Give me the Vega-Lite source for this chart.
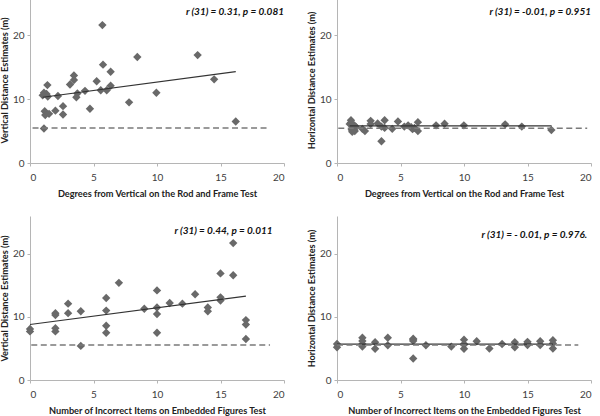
{
  "$schema": "https://vega.github.io/schema/vega-lite/v6.json",
  "padding": {"left": 0, "top": -3, "right": 0, "bottom": 0},
  "background": "white",
  "datasets": {
    "points": [
      {"p":1,"x":1.0,"y":10.6},{"p":1,"x":1.1,"y":11.0},{"p":1,"x":1.3,"y":10.8},{"p":1,"x":1.4,"y":10.4},
      {"p":1,"x":1.37,"y":12.2},{"p":1,"x":2.2,"y":10.5},{"p":1,"x":1.16,"y":8.1},{"p":1,"x":1.2,"y":7.5},
      {"p":1,"x":1.5,"y":7.7},{"p":1,"x":2.0,"y":8.2},{"p":1,"x":2.6,"y":8.9},{"p":1,"x":2.6,"y":7.6},
      {"p":1,"x":1.1,"y":5.4},{"p":1,"x":3.15,"y":12.3},{"p":1,"x":3.46,"y":13.7},{"p":1,"x":3.46,"y":13.0},
      {"p":1,"x":3.73,"y":10.9},{"p":1,"x":3.65,"y":10.3},{"p":1,"x":4.33,"y":11.3},{"p":1,"x":4.72,"y":8.5},
      {"p":1,"x":5.25,"y":12.8},{"p":1,"x":5.7,"y":21.6},{"p":1,"x":5.75,"y":15.4},{"p":1,"x":5.57,"y":11.4},
      {"p":1,"x":6.04,"y":11.4},{"p":1,"x":6.35,"y":14.3},{"p":1,"x":6.35,"y":12.1},{"p":1,"x":7.8,"y":9.5},
      {"p":1,"x":8.45,"y":16.6},{"p":1,"x":9.95,"y":11.0},{"p":1,"x":13.2,"y":16.9},{"p":1,"x":14.5,"y":13.1},
      {"p":1,"x":16.2,"y":6.5},

      {"p":2,"x":1.0,"y":6.1},{"p":2,"x":1.1,"y":6.7},{"p":2,"x":1.3,"y":5.5},{"p":2,"x":1.4,"y":5.0},
      {"p":2,"x":1.37,"y":5.9},{"p":2,"x":2.2,"y":5.0},{"p":2,"x":1.16,"y":5.2},{"p":2,"x":1.2,"y":4.9},
      {"p":2,"x":1.5,"y":5.6},{"p":2,"x":2.0,"y":5.35},{"p":2,"x":2.65,"y":6.6},{"p":2,"x":2.65,"y":6.1},
      {"p":2,"x":1.1,"y":6.3},{"p":2,"x":3.2,"y":6.2},{"p":2,"x":3.5,"y":3.4},{"p":2,"x":3.5,"y":5.7},
      {"p":2,"x":3.75,"y":6.7},{"p":2,"x":3.75,"y":5.5},{"p":2,"x":4.35,"y":5.35},{"p":2,"x":4.8,"y":6.5},
      {"p":2,"x":5.3,"y":5.7},{"p":2,"x":5.6,"y":5.9},{"p":2,"x":5.85,"y":5.6},{"p":2,"x":5.95,"y":5.3},
      {"p":2,"x":6.1,"y":5.5},{"p":2,"x":6.37,"y":6.4},{"p":2,"x":6.37,"y":5.0},{"p":2,"x":7.8,"y":5.9},
      {"p":2,"x":8.47,"y":6.15},{"p":2,"x":9.99,"y":5.9},{"p":2,"x":13.24,"y":6.05},{"p":2,"x":14.55,"y":5.7},
      {"p":2,"x":16.88,"y":5.15},

      {"p":3,"x":0,"y":8.1},{"p":3,"x":0,"y":7.7},{"p":3,"x":2,"y":10.6},{"p":3,"x":2,"y":10.3},
      {"p":3,"x":2,"y":8.2},{"p":3,"x":2,"y":7.7},{"p":3,"x":3,"y":12.1},{"p":3,"x":3,"y":10.6},
      {"p":3,"x":4,"y":10.9},{"p":3,"x":4,"y":5.4},{"p":3,"x":6,"y":13.0},{"p":3,"x":6,"y":11.0},
      {"p":3,"x":6,"y":8.6},{"p":3,"x":6,"y":7.5},{"p":3,"x":7,"y":15.4},{"p":3,"x":9,"y":11.3},
      {"p":3,"x":10,"y":14.2},{"p":3,"x":10,"y":11.5},{"p":3,"x":10,"y":10.45},{"p":3,"x":10,"y":7.5},
      {"p":3,"x":11,"y":12.2},{"p":3,"x":12,"y":12.1},{"p":3,"x":13,"y":13.6},{"p":3,"x":14,"y":11.5},
      {"p":3,"x":14,"y":10.9},{"p":3,"x":15,"y":16.9},{"p":3,"x":15,"y":13.1},{"p":3,"x":15,"y":12.6},
      {"p":3,"x":16,"y":21.7},{"p":3,"x":16,"y":16.6},{"p":3,"x":17,"y":9.5},{"p":3,"x":17,"y":8.8},
      {"p":3,"x":17,"y":6.5},

      {"p":4,"x":0,"y":5.7},{"p":4,"x":0,"y":5.2},{"p":4,"x":2,"y":6.7},{"p":4,"x":2,"y":6.2},
      {"p":4,"x":2,"y":5.7},{"p":4,"x":2,"y":5.3},{"p":4,"x":3,"y":6.0},{"p":4,"x":3,"y":4.95},
      {"p":4,"x":4,"y":6.7},{"p":4,"x":4,"y":5.5},{"p":4,"x":6,"y":6.55},{"p":4,"x":6,"y":6.4},
      {"p":4,"x":6,"y":6.2},{"p":4,"x":6,"y":3.4},{"p":4,"x":7,"y":5.5},{"p":4,"x":9,"y":5.3},
      {"p":4,"x":10,"y":6.4},{"p":4,"x":10,"y":5.7},{"p":4,"x":10,"y":5.6},{"p":4,"x":10,"y":4.95},
      {"p":4,"x":11,"y":6.15},{"p":4,"x":12,"y":5.0},{"p":4,"x":13,"y":5.7},{"p":4,"x":14,"y":6.0},
      {"p":4,"x":14,"y":5.2},{"p":4,"x":15,"y":6.05},{"p":4,"x":15,"y":5.8},{"p":4,"x":15,"y":5.55},
      {"p":4,"x":16,"y":6.15},{"p":4,"x":16,"y":5.55},{"p":4,"x":17,"y":6.3},{"p":4,"x":17,"y":5.8},
      {"p":4,"x":17,"y":5.0}
    ],
    "lines": [
      {"p":1,"k":"fit","x":1.0,"y":10.3},{"p":1,"k":"fit","x":16.2,"y":14.3},
      {"p":1,"k":"ref","x":0.2,"y":5.5},{"p":1,"k":"ref","x":18.9,"y":5.5},
      {"p":2,"k":"fit","x":1.0,"y":5.8},{"p":2,"k":"fit","x":16.9,"y":5.8},
      {"p":2,"k":"ref","x":0.1,"y":5.45},{"p":2,"k":"ref","x":19.7,"y":5.45},
      {"p":3,"k":"fit","x":0,"y":8.8},{"p":3,"k":"fit","x":17,"y":13.3},
      {"p":3,"k":"ref","x":0.1,"y":5.55},{"p":3,"k":"ref","x":18.9,"y":5.55},
      {"p":4,"k":"fit","x":0,"y":5.7},{"p":4,"k":"fit","x":17,"y":5.7},
      {"p":4,"k":"ref","x":0,"y":5.55},{"p":4,"k":"ref","x":19.0,"y":5.55}
    ],
    "notes": [
      {"p":1,"x":20,"y":23.6,"label":"r (31) = 0.31,  p = 0.081"},
      {"p":2,"x":20,"y":23.6,"label":"r (31) = -0.01, p = 0.951"},
      {"p":3,"x":19.1,"y":23.7,"label":"r (31) = 0.44,  p = 0.011"},
      {"p":4,"x":19.7,"y":23.0,"label":"r (31) = - 0.01,  p = 0.976."}
    ]
  },
  "config": {
    "view": {"stroke": null},
    "axis": {
      "grid": false,
      "domainColor": "#b5b5b5",
      "tickColor": "#b5b5b5",
      "tickSize": 3,
      "labelFont": "Lato",
      "labelFontSize": 10,
      "labelColor": "#404040",
      "titleFont": "Lato",
      "titleFontSize": 9.2,
      "titleFontWeight": "bold",
      "titleColor": "#222222"
    },
    "axisX": {"titlePadding": 7, "labelPadding": 6},
    "axisY": {"titlePadding": 3, "labelPadding": 3}
  },
  "vconcat": [
    {
      "spacing": 22,
      "hconcat": [
        {
          "width": 254, "height": 166,
          "layer": [
            {"data": {"name": "points"}, "transform": [{"filter": "datum.p == 1"}],
             "mark": {"type": "point", "shape": "diamond", "filled": true, "color": "#696969", "size": 70, "opacity": 1},
             "encoding": {
               "x": {"field": "x", "type": "quantitative", "scale": {"domain": [0, 20]}, "axis": {"values": [0,5,10,15,20], "title": "Degrees from Vertical on the Rod and Frame Test"}},
               "y": {"field": "y", "type": "quantitative", "scale": {"domain": [0, 25]}, "axis": {"values": [0,5,10,15,20,25], "title": "Vertical Distance Estimates (m)"}}}},
            {"data": {"name": "lines"}, "transform": [{"filter": "datum.p == 1 && datum.k == 'fit'"}],
             "mark": {"type": "line", "color": "#333333", "strokeWidth": 1.2},
             "encoding": {"x": {"field": "x", "type": "quantitative"}, "y": {"field": "y", "type": "quantitative"}}},
            {"data": {"name": "lines"}, "transform": [{"filter": "datum.p == 1 && datum.k == 'ref'"}],
             "mark": {"type": "line", "color": "#7a7a7a", "strokeWidth": 1.5, "strokeDash": [6, 3.5]},
             "encoding": {"x": {"field": "x", "type": "quantitative"}, "y": {"field": "y", "type": "quantitative"}}},
            {"data": {"name": "notes"}, "transform": [{"filter": "datum.p == 1"}],
             "mark": {"type": "text", "align": "right", "baseline": "middle", "font": "Lato", "fontSize": 10, "fontStyle": "italic", "fontWeight": "bold", "color": "#111111"},
             "encoding": {"x": {"field": "x", "type": "quantitative"}, "y": {"field": "y", "type": "quantitative"}, "text": {"field": "label"}}}
          ]
        },
        {
          "width": 254, "height": 166,
          "layer": [
            {"data": {"name": "points"}, "transform": [{"filter": "datum.p == 2"}],
             "mark": {"type": "point", "shape": "diamond", "filled": true, "color": "#696969", "size": 70, "opacity": 1},
             "encoding": {
               "x": {"field": "x", "type": "quantitative", "scale": {"domain": [0, 20]}, "axis": {"values": [0,5,10,15,20], "title": "Degrees from Vertical on the Rod and Frame Test"}},
               "y": {"field": "y", "type": "quantitative", "scale": {"domain": [0, 25]}, "axis": {"values": [0,5,10,15,20,25], "title": "Horizontal Distance Estimates (m)"}}}},
            {"data": {"name": "lines"}, "transform": [{"filter": "datum.p == 2 && datum.k == 'fit'"}],
             "mark": {"type": "line", "color": "#333333", "strokeWidth": 1.2},
             "encoding": {"x": {"field": "x", "type": "quantitative"}, "y": {"field": "y", "type": "quantitative"}}},
            {"data": {"name": "lines"}, "transform": [{"filter": "datum.p == 2 && datum.k == 'ref'"}],
             "mark": {"type": "line", "color": "#7a7a7a", "strokeWidth": 1.5, "strokeDash": [6, 3.5]},
             "encoding": {"x": {"field": "x", "type": "quantitative"}, "y": {"field": "y", "type": "quantitative"}}},
            {"data": {"name": "notes"}, "transform": [{"filter": "datum.p == 2"}],
             "mark": {"type": "text", "align": "right", "baseline": "middle", "font": "Lato", "fontSize": 10, "fontStyle": "italic", "fontWeight": "bold", "color": "#111111"},
             "encoding": {"x": {"field": "x", "type": "quantitative"}, "y": {"field": "y", "type": "quantitative"}, "text": {"field": "label"}}}
          ]
        }
      ]
    },
    {
      "spacing": 22,
      "hconcat": [
        {
          "width": 254, "height": 164,
          "layer": [
            {"data": {"name": "points"}, "transform": [{"filter": "datum.p == 3"}],
             "mark": {"type": "point", "shape": "diamond", "filled": true, "color": "#696969", "size": 70, "opacity": 1},
             "encoding": {
               "x": {"field": "x", "type": "quantitative", "scale": {"domain": [0, 20]}, "axis": {"values": [0,5,10,15,20], "title": "Number of Incorrect Items on Embedded Figures Test"}},
               "y": {"field": "y", "type": "quantitative", "scale": {"domain": [0, 25]}, "axis": {"values": [0,5,10,15,20,25], "title": "Vertical Distance Estimates (m)"}}}},
            {"data": {"name": "lines"}, "transform": [{"filter": "datum.p == 3 && datum.k == 'fit'"}],
             "mark": {"type": "line", "color": "#333333", "strokeWidth": 1.2},
             "encoding": {"x": {"field": "x", "type": "quantitative"}, "y": {"field": "y", "type": "quantitative"}}},
            {"data": {"name": "lines"}, "transform": [{"filter": "datum.p == 3 && datum.k == 'ref'"}],
             "mark": {"type": "line", "color": "#7a7a7a", "strokeWidth": 1.5, "strokeDash": [6, 3.5]},
             "encoding": {"x": {"field": "x", "type": "quantitative"}, "y": {"field": "y", "type": "quantitative"}}},
            {"data": {"name": "notes"}, "transform": [{"filter": "datum.p == 3"}],
             "mark": {"type": "text", "align": "right", "baseline": "middle", "font": "Lato", "fontSize": 10, "fontStyle": "italic", "fontWeight": "bold", "color": "#111111"},
             "encoding": {"x": {"field": "x", "type": "quantitative"}, "y": {"field": "y", "type": "quantitative"}, "text": {"field": "label"}}}
          ]
        },
        {
          "width": 254, "height": 164,
          "layer": [
            {"data": {"name": "points"}, "transform": [{"filter": "datum.p == 4"}],
             "mark": {"type": "point", "shape": "diamond", "filled": true, "color": "#696969", "size": 70, "opacity": 1},
             "encoding": {
               "x": {"field": "x", "type": "quantitative", "scale": {"domain": [0, 20]}, "axis": {"values": [0,5,10,15,20], "title": "Number of Incorrect Items on the Embedded Figures Test"}},
               "y": {"field": "y", "type": "quantitative", "scale": {"domain": [0, 25]}, "axis": {"values": [0,5,10,15,20,25], "title": "Horizontal Distance Estimates (m)"}}}},
            {"data": {"name": "lines"}, "transform": [{"filter": "datum.p == 4 && datum.k == 'fit'"}],
             "mark": {"type": "line", "color": "#333333", "strokeWidth": 1.2},
             "encoding": {"x": {"field": "x", "type": "quantitative"}, "y": {"field": "y", "type": "quantitative"}}},
            {"data": {"name": "lines"}, "transform": [{"filter": "datum.p == 4 && datum.k == 'ref'"}],
             "mark": {"type": "line", "color": "#7a7a7a", "strokeWidth": 1.5, "strokeDash": [6, 3.5]},
             "encoding": {"x": {"field": "x", "type": "quantitative"}, "y": {"field": "y", "type": "quantitative"}}},
            {"data": {"name": "notes"}, "transform": [{"filter": "datum.p == 4"}],
             "mark": {"type": "text", "align": "right", "baseline": "middle", "font": "Lato", "fontSize": 10, "fontStyle": "italic", "fontWeight": "bold", "color": "#111111"},
             "encoding": {"x": {"field": "x", "type": "quantitative"}, "y": {"field": "y", "type": "quantitative"}, "text": {"field": "label"}}}
          ]
        }
      ]
    }
  ],
  "spacing": 17
}
